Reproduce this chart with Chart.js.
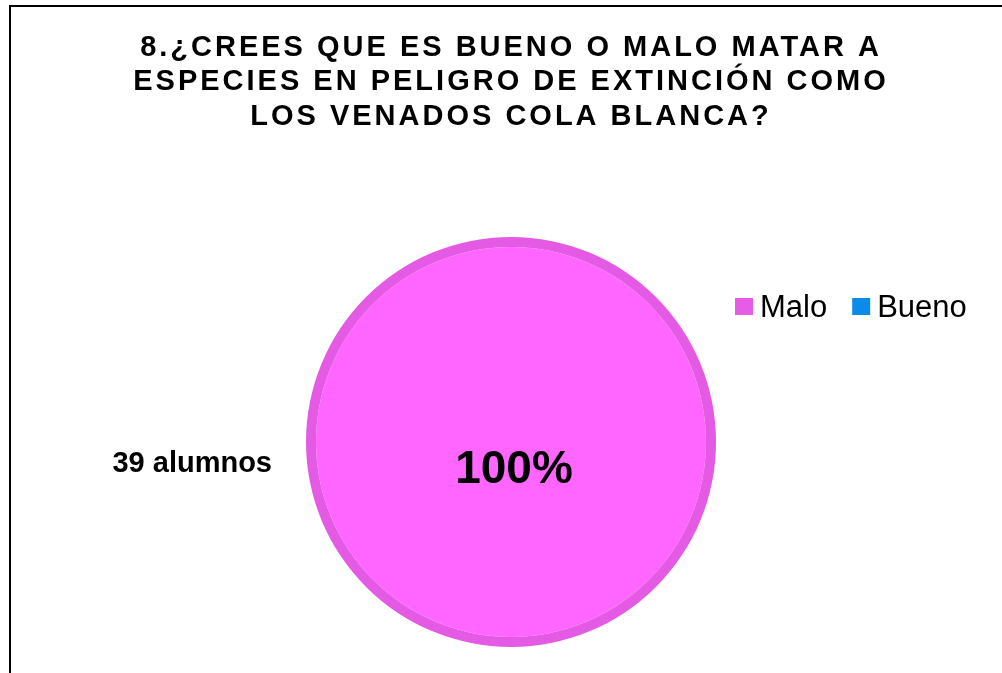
<!DOCTYPE html>
<html>
<head>
<meta charset="utf-8">
<script src="https://cdn.jsdelivr.net/npm/chart.js@4.4.0/dist/chart.umd.min.js"></script>
<style>
    html, body { margin: 0; padding: 0; background: #fff; }
    #marco {
        position: absolute; left: 9px; top: 5px;
        width: 993px; height: 668px;
        border-left: 2px solid #000; border-top: 2px solid #000;
        box-sizing: border-box;
    }
    #grafico { display: block; }
</style>
</head>
<body>
<div id="marco"><canvas id="grafico" width="991" height="666"></canvas></div>
<script>
// datos del grafico
var etiquetas = ['Malo', 'Bueno'];
var alumnos = [39, 0];
var coloresRelleno = ['#FF66FF', '#0A8BE8'];
var coloresBorde = ['#E55AE5', '#0A8BE8'];
var coloresLeyenda = ['#E75CE6', '#0A8BE8'];
var titulo = [
    '8.¿CREES QUE ES BUENO O MALO MATAR A',
    'ESPECIES EN PELIGRO DE EXTINCIÓN COMO',
    'LOS VENADOS COLA BLANCA?'
];

var fuente = "'Liberation Sans', Arial, sans-serif";

// espaciado de letras del titulo
var espaciadoTitulo = {
    id: 'espaciadoTitulo',
    beforeDraw: function (chart) {
        chart.ctx.letterSpacing = '3px';
    },
    beforeDatasetsDraw: function (chart) {
        chart.ctx.letterSpacing = '0px';
    }
};

// textos: porcentaje, total y leyenda horizontal
var textosExtra = {
    id: 'textosExtra',
    afterDatasetsDraw: function (chart) {
        var ctx = chart.ctx;
        var arco = chart.getDatasetMeta(0).data[0];
        var datos = chart.data.datasets[1].data;
        var total = datos.reduce(function (a, b) { return a + b; }, 0);
        var pct = Math.round(datos[0] / total * 100) + '%';

        ctx.save();
        ctx.fillStyle = '#000';
        ctx.textBaseline = 'middle';

        ctx.font = 'bold 46px ' + fuente;
        ctx.textAlign = 'center';
        ctx.fillText(pct, arco.x + 3, arco.y + 28);

        ctx.font = 'bold 29px ' + fuente;
        ctx.textAlign = 'right';
        ctx.fillText(total + ' alumnos', arco.x - arco.outerRadius - 34, arco.y + 22);

        // leyenda
        ctx.font = '31px ' + fuente;
        ctx.textAlign = 'left';
        var x = 724;
        var y = 300;
        chart.data.labels.forEach(function (txt, i) {
            ctx.fillStyle = coloresLeyenda[i];
            ctx.fillRect(x, y - 9, 18, 17);
            ctx.fillStyle = '#000';
            ctx.fillText(txt, x + 25, y + 1);
            x += 25 + ctx.measureText(txt).width + 25;
        });
        ctx.restore();
    }
};

// anillo exterior (borde) + relleno interior, asi el circulo completo no tiene linea radial
var grafico = new Chart(document.getElementById('grafico').getContext('2d'), {
    type: 'pie',
    data: {
        labels: etiquetas,
        datasets: [
            {
                data: alumnos,
                backgroundColor: coloresBorde,
                borderWidth: 0,
                weight: 10
            },
            {
                data: alumnos,
                backgroundColor: coloresRelleno,
                borderWidth: 0,
                weight: 195
            }
        ]
    },
    options: {
        responsive: false,
        animation: false,
        radius: 205,
        layout: { padding: { left: 9, right: 0, top: 0, bottom: 16 } },
        plugins: {
            legend: { display: false },
            tooltip: { enabled: false },
            title: {
                display: true,
                text: titulo,
                color: '#000',
                font: { family: fuente, size: 29, weight: 'bold', lineHeight: 1.183 },
                padding: { top: 24, bottom: 93 }
            }
        }
    },
    plugins: [espaciadoTitulo, textosExtra]
});
</script>
</body>
</html>
